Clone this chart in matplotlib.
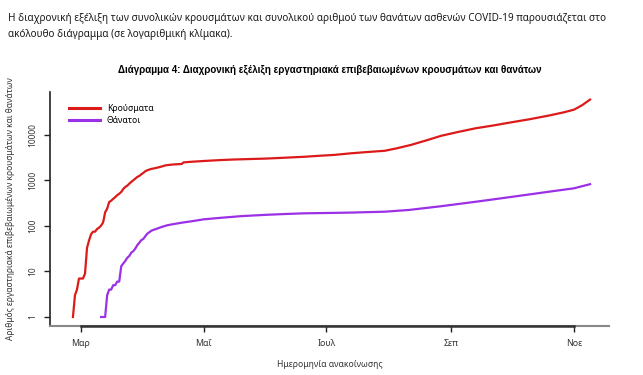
import matplotlib
matplotlib.use('Agg')
import matplotlib.pyplot as plt
import pandas as pd

plt.rcParams['font.family'] = ['Noto Sans', 'DejaVu Sans']

# συνολικά κρούσματα (εκτίμηση από το διάγραμμα)
case_dates = ['2020-02-26', '2020-02-27', '2020-02-28', '2020-02-29', '2020-03-02',
              '2020-03-03', '2020-03-04', '2020-03-05', '2020-03-06', '2020-03-07',
              '2020-03-08', '2020-03-09', '2020-03-10', '2020-03-11', '2020-03-12',
              '2020-03-13', '2020-03-14', '2020-03-15', '2020-03-16', '2020-03-17',
              '2020-03-18', '2020-03-19', '2020-03-20', '2020-03-21', '2020-03-22',
              '2020-03-23', '2020-03-24', '2020-03-25', '2020-03-26', '2020-03-27',
              '2020-03-28', '2020-03-29', '2020-03-30', '2020-03-31', '2020-04-01',
              '2020-04-02', '2020-04-03', '2020-04-04', '2020-04-05', '2020-04-06',
              '2020-04-08', '2020-04-10', '2020-04-12', '2020-04-15', '2020-04-18',
              '2020-04-20', '2020-04-21', '2020-04-25', '2020-05-01', '2020-05-08',
              '2020-05-15', '2020-05-24', '2020-06-01', '2020-06-10', '2020-06-20',
              '2020-06-27', '2020-07-05', '2020-07-13', '2020-07-20', '2020-07-30',
              '2020-08-05', '2020-08-12', '2020-08-20', '2020-08-27', '2020-09-05',
              '2020-09-13', '2020-09-22', '2020-09-30', '2020-10-10', '2020-10-20',
              '2020-10-27', '2020-11-01', '2020-11-05', '2020-11-09']
case_values = [1, 3, 4, 7, 7,
               9, 33, 48, 66, 75,
               75, 86, 92, 102, 120,
               200, 240, 335, 360, 395,
               430, 475, 510, 560, 650,
               720, 770, 850, 930, 1010,
               1100, 1200, 1260, 1370, 1470,
               1600, 1680, 1740, 1800, 1830,
               1920, 2020, 2150, 2230, 2280,
               2300, 2500, 2580, 2680, 2790,
               2880, 2960, 3030, 3160, 3320,
               3480, 3650, 3950, 4180, 4500,
               5100, 6050, 7700, 9600, 11800,
               14000, 16200, 18700, 22200, 27000,
               31500, 36000, 45000, 60000]

# συνολικοί θάνατοι
death_dates = ['2020-03-11', '2020-03-13', '2020-03-14', '2020-03-15', '2020-03-16',
               '2020-03-17', '2020-03-18', '2020-03-19', '2020-03-20', '2020-03-21',
               '2020-03-22', '2020-03-23', '2020-03-24', '2020-03-25', '2020-03-26',
               '2020-03-27', '2020-03-28', '2020-03-29', '2020-03-30', '2020-03-31',
               '2020-04-01', '2020-04-02', '2020-04-03', '2020-04-04', '2020-04-05',
               '2020-04-06', '2020-04-08', '2020-04-10', '2020-04-13', '2020-04-16',
               '2020-04-20', '2020-04-25', '2020-05-01', '2020-05-10', '2020-05-20',
               '2020-06-01', '2020-06-10', '2020-06-20', '2020-07-01', '2020-07-13',
               '2020-07-30', '2020-08-11', '2020-08-27', '2020-09-13', '2020-09-30',
               '2020-10-20', '2020-11-01', '2020-11-09']
death_values = [1, 1, 3, 4, 4,
                5, 5, 6, 6, 13,
                15, 17, 20, 22, 26,
                28, 32, 38, 43, 49,
                52, 60, 68, 73, 79,
                82, 88, 95, 104, 110,
                118, 127, 140, 152, 165,
                176, 183, 190, 193, 197,
                206, 225, 272, 340, 430,
                570, 673, 830]

month_ticks = ['2020-03-01', '2020-05-01', '2020-07-01', '2020-09-01', '2020-11-01']
month_labels = ['Μαρ', 'Μαΐ', 'Ιουλ', 'Σεπ', 'Νοε']
y_ticks = [1, 10, 100, 1000, 10000]

fig = plt.figure(figsize=(6.43, 3.75), dpi=100)
ax = fig.add_axes([50/643, 49/375, 559/643, 234/375])

ax.plot(pd.to_datetime(case_dates), case_values, color='#dd1a1a', lw=1.6, label='Κρούσματα')
ax.plot(pd.to_datetime(death_dates), death_values, color='#9b30e6', lw=1.6, label='Θάνατοι')

ax.set_yscale('log')
ax.set_ylim(0.634, 88000)
start = pd.Timestamp('2020-03-01')
ax.set_xlim(start - pd.Timedelta(days=15.4), start + pd.Timedelta(days=262.4))

ax.set_xticks(pd.to_datetime(month_ticks))
ax.set_xticklabels(month_labels, fontsize=6.3, color='#333333')
ax.set_yticks(y_ticks)
ax.set_yticklabels([str(v) for v in y_ticks], fontsize=6, rotation=90, va='center', color='#333333')
ax.minorticks_off()
ax.tick_params(axis='both', length=4, width=1, color='#222222')
ax.tick_params(axis='x', pad=5)
ax.tick_params(axis='y', pad=5)

for s in ['top', 'right']:
    ax.spines[s].set_visible(False)
ax.spines['left'].set_color('#222222')
ax.spines['left'].set_linewidth(1.2)
ax.spines['bottom'].set_color('#888888')
ax.spines['bottom'].set_linewidth(1.5)
tick_pos = pd.to_datetime(month_ticks)
ax.plot([tick_pos[0], tick_pos[-1]], [0, 0], transform=ax.get_xaxis_transform(),
        color='#333333', lw=1.8, clip_on=False, zorder=5)

ax.set_xlabel('Ημερομηνία ανακοίνωσης', fontsize=6.2, color='#333333', labelpad=9)
ax.set_ylabel('Αριθμός εργαστηριακά επιβεβαιωμένων κρουσμάτων και θανάτων',
              fontsize=6, color='#333333', labelpad=10)

leg = ax.legend(loc='upper left', bbox_to_anchor=(0.02, 0.98), frameon=False,
                fontsize=6.2, handlelength=3.6, handletextpad=0.8, labelspacing=0.3)
for line in leg.get_lines():
    line.set_linewidth(2.2)

fig.text(0.513, 1 - 70/375, 'Διάγραμμα 4: Διαχρονική εξέλιξη εργαστηριακά επιβεβαιωμένων κρουσμάτων και θανάτων',
         ha='center', va='center', fontsize=7, fontweight='bold',
         family=['Liberation Sans', 'DejaVu Sans'])
fig.text(8/643, 1 - 18/375, 'Η διαχρονική εξέλιξη των συνολικών κρουσμάτων και συνολικού αριθμού των θανάτων ασθενών COVID-19 παρουσιάζεται στο',
         ha='left', va='center', fontsize=7.2, color='#1a1a1a')
fig.text(8/643, 1 - 34/375, 'ακόλουθο διάγραμμα (σε λογαριθμική κλίμακα).',
         ha='left', va='center', fontsize=7.2, color='#1a1a1a')

fig.savefig('out.png', dpi=100)
